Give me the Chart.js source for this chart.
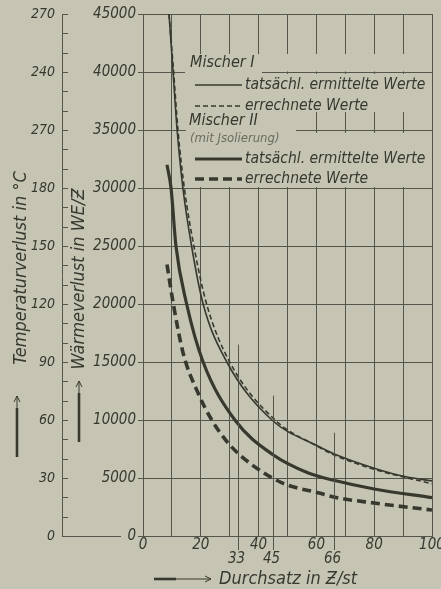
<!DOCTYPE html>
<html>
<head>
<meta charset="utf-8">
<script src="https://cdn.jsdelivr.net/npm/chart.js@4.4.1/dist/chart.umd.min.js"></script>
<style>
  html, body { margin: 0; padding: 0; background: #c6c5b4; }
</style>
</head>
<body>
<canvas id="myChart" width="441" height="589"></canvas>
<script>
// DATA (Durchsatz in Ƶ/st -> Wärmeverlust in WE/Ƶ)
const m1IstX  = [9.0, 10.4, 11.8, 13.8, 16.8, 20.8, 29, 44.6, 61, 66, 80, 91, 100];
const m1IstY  = [45000, 40000, 35000, 30000, 25000, 20000, 15000, 10000, 7700, 7100, 5850, 5100, 4750];
const m1CalcX = [9.0, 10.6, 12.1, 14.3, 17.6, 22.0, 30.0, 45.7, 61, 66, 80, 100];
const m1CalcY = [45000, 40000, 35000, 30000, 25000, 20000, 15000, 10000, 7650, 7000, 5750, 4500];
const m2IstX  = [8.3, 9.7, 11.4, 15.1, 20.8, 31.8, 45, 57, 66, 80, 100];
const m2IstY  = [32000, 30000, 25000, 20000, 15000, 10000, 7000, 5450, 4800, 4050, 3300];
const m2CalcX = [8.3, 10.5, 13.9, 19.1, 23.8, 29.5, 37, 48.5, 61, 66, 80, 100];
const m2CalcY = [23400, 20000, 15750, 12300, 10000, 8000, 6270, 4540, 3700, 3360, 2840, 2240];

const seriesLabels = ['tatsächl. ermittelte Werte', 'errechnete Werte', 'tatsächl. ermittelte Werte', 'errechnete Werte'];

// tick labels
const xTickLabels = ['0', '20', '40', '60', '80', '100'];
const heatLabels  = ['0', '5000', '10000', '15000', '20000', '25000', '30000', '35000', '40000', '45000'];
const tempLabels  = ['0', '30', '60', '90', '120', '150', '180', '270', '240', '270'];
const xMarks      = [33, 45, 66];
const xMarkTops   = [16500, 12100, 8900];

// STYLE
const paper = '#c6c5b4';
const ink = '#38382f';
const gridInk = '#55554b';
const FONT = "'DejaVu Sans Condensed', 'DejaVu Sans', sans-serif";

const pts = (xs, ys) => xs.map((x, i) => ({ x: x, y: ys[i] }));

function arrowUp(c, x, yFrom, yTo) {
    c.lineWidth = 2.6;
    c.beginPath(); c.moveTo(x, yFrom); c.lineTo(x, yTo + 12); c.stroke();
    c.lineWidth = 1;
    c.beginPath(); c.moveTo(x, yTo + 12); c.lineTo(x, yTo); c.stroke();
    c.beginPath(); c.moveTo(x - 3, yTo + 6); c.lineTo(x, yTo); c.lineTo(x + 3, yTo + 6); c.stroke();
}

const sketch = {
    id: 'sketch',
    beforeDraw(chart) {
        const c = chart.ctx;
        c.save();
        c.fillStyle = paper;
        c.fillRect(0, 0, chart.width, chart.height);
        c.restore();
    },
    beforeDatasetsDraw(chart) {
        const c = chart.ctx;
        const ds = chart.data.datasets;
        c.save();
        // paper under the legend hides the grid
        c.fillStyle = paper;
        [[185, 54, 246, 17.5], [185, 71, 77, 3.5], [190, 74, 241, 38], [186, 112, 110, 21], [190, 133, 241, 54]]
            .forEach(r => c.fillRect(r[0], r[1], r[2], r[3]));

        c.fillStyle = ink;
        c.strokeStyle = ink;
        c.textBaseline = 'middle';
        c.font = 'italic 16px ' + FONT;
        c.fillText('Mischer I', 190, 63);
        c.fillText('Mischer II', 189, 121);
        c.font = 'italic 13px ' + FONT;
        c.fillStyle = '#6c6b60';
        c.fillText('(mit Jsolierung)', 190, 139);

        const rows = [85, 106, 159, 179];
        c.font = 'italic 15.5px ' + FONT;
        c.fillStyle = ink;
        rows.forEach((y, i) => {
            c.lineWidth = ds[i].borderWidth;
            c.setLineDash(ds[i].borderDash || []);
            c.beginPath(); c.moveTo(195, y); c.lineTo(242, y); c.stroke();
            c.setLineDash([]);
            c.fillText(seriesLabels[i], 245, y);
        });
        c.restore();
    },
    afterDraw(chart) {
        const c = chart.ctx;
        const xs = chart.scales.x, ys = chart.scales.y, ts = chart.scales.yT;
        c.save();
        c.strokeStyle = gridInk;
        c.fillStyle = ink;
        c.lineWidth = 1;

        // temperature axis: inward ticks every 10 and foot line
        for (let v = 0; v <= 270; v += 10) {
            const y = Math.round(ts.getPixelForValue(v)) + 0.5;
            c.beginPath(); c.moveTo(ts.right, y); c.lineTo(ts.right + 6, y); c.stroke();
        }
        c.beginPath(); c.moveTo(ts.right, ys.bottom + 0.5); c.lineTo(ts.right + 59, ys.bottom + 0.5); c.stroke();

        // extra throughput marks
        c.font = 'italic 15px ' + FONT;
        c.textAlign = 'center';
        c.textBaseline = 'middle';
        xMarks.forEach((m, i) => {
            const x = Math.round(xs.getPixelForValue(m)) + 0.5;
            c.beginPath(); c.moveTo(x, ys.getPixelForValue(xMarkTops[i])); c.lineTo(x, ys.bottom + 14); c.stroke();
            c.fillText(String(m), x - 2, 559);
        });

        // axis titles
        c.strokeStyle = ink;
        c.font = 'italic 18px ' + FONT;
        c.save();
        c.translate(21, 268); c.rotate(-Math.PI / 2);
        c.fillText('Temperaturverlust in °C', 0, 0);
        c.restore();
        c.save();
        c.translate(79, 279); c.rotate(-Math.PI / 2);
        c.fillText('Wärmeverlust in WE/Ƶ', 0, 0);
        c.restore();
        arrowUp(c, 17, 457, 396);
        arrowUp(c, 79, 442, 381);

        // x title
        c.lineWidth = 2.6;
        c.beginPath(); c.moveTo(154, 579); c.lineTo(176, 579); c.stroke();
        c.lineWidth = 1;
        c.beginPath(); c.moveTo(176, 579); c.lineTo(211, 579); c.stroke();
        c.beginPath(); c.moveTo(205, 576); c.lineTo(211, 579); c.lineTo(205, 582); c.stroke();
        c.textAlign = 'left';
        c.fillText('Durchsatz in Ƶ/st', 219, 579);
        c.restore();
    }
};

const tickFont = { family: FONT, size: 15, style: 'italic' };

const ctx = document.getElementById('myChart').getContext('2d');
const myChart = new Chart(ctx, {
    type: 'line',
    data: {
        datasets: [
            { label: 'Mischer I ' + seriesLabels[0], data: pts(m1IstX, m1IstY), borderColor: ink, borderWidth: 1.6 },
            { label: 'Mischer I ' + seriesLabels[1], data: pts(m1CalcX, m1CalcY), borderColor: ink, borderWidth: 1.6, borderDash: [5, 3] },
            { label: 'Mischer II ' + seriesLabels[2], data: pts(m2IstX, m2IstY), borderColor: ink, borderWidth: 3.2 },
            { label: 'Mischer II ' + seriesLabels[3], data: pts(m2CalcX, m2CalcY), borderColor: ink, borderWidth: 3.6, borderDash: [9, 5] }
        ]
    },
    options: {
        responsive: false,
        animation: false,
        events: [],
        elements: {
            point: { radius: 0 },
            line: { cubicInterpolationMode: 'monotone', fill: false }
        },
        layout: { padding: { left: 0, top: 14, right: 9, bottom: 0 } },
        plugins: { legend: { display: false }, tooltip: { enabled: false } },
        scales: {
            x: {
                type: 'linear', min: 0, max: 100,
                ticks: {
                    stepSize: 10, autoSkip: false, maxRotation: 0, padding: 0, color: ink, font: tickFont,
                    callback: v => (v % 20 === 0 ? xTickLabels[v / 20] : '')
                },
                grid: { color: gridInk, lineWidth: 1, drawTicks: false },
                border: { color: gridInk, width: 1 },
                afterFit: s => { s.height = 53; s.paddingLeft = 0; s.paddingRight = 0; }
            },
            y: {
                position: 'left', weight: 0, min: 0, max: 45000,
                ticks: { stepSize: 5000, padding: 2, color: ink, font: tickFont, callback: v => heatLabels[v / 5000] },
                grid: { color: gridInk, lineWidth: 1, tickLength: 5 },
                border: { color: gridInk, width: 1 },
                afterFit: s => { s.width = 81; s.paddingTop = 0; s.paddingBottom = 0; }
            },
            yT: {
                position: 'left', weight: 1, min: 0, max: 270,
                ticks: { stepSize: 30, padding: 7, color: ink, font: { family: FONT, size: 14, style: 'italic' }, callback: v => tempLabels[v / 30] },
                grid: { drawOnChartArea: false, drawTicks: false },
                border: { color: gridInk, width: 1 },
                afterFit: s => { s.width = 62; s.paddingTop = 0; s.paddingBottom = 0; }
            }
        }
    },
    plugins: [sketch]
});
</script>
</body>
</html>
